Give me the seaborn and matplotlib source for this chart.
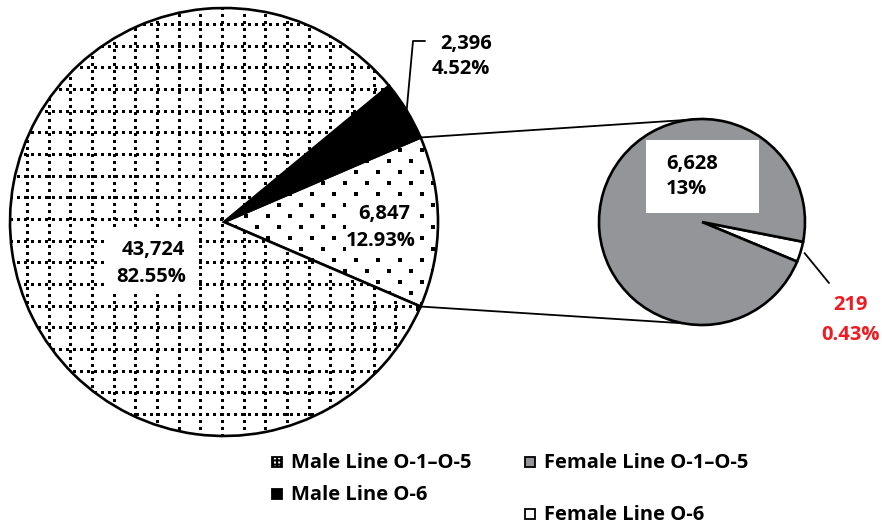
import numpy as np
import matplotlib
matplotlib.use("Agg")
import matplotlib.pyplot as plt
from matplotlib.patches import Rectangle
import seaborn as sns

# ---------------- data ----------------
main_categories = ["Female Line (all)", "Male Line O-6", "Male Line O-1–O-5"]
main_values = [6847, 2396, 43724]
main_pct = ["12.93%", "4.52%", "82.55%"]

sub_categories = ["Female Line O-6", "Female Line O-1–O-5"]
sub_values = [219, 6628]
sub_pct = ["0.43%", "13%"]

legend_labels = ["Male Line O-1–O-5", "Male Line O-6",
                 "Female Line O-1–O-5", "Female Line O-6"]

# ---------------- style ----------------
sns.set_theme(style="white")
plt.rcParams['font.family'] = ['Open Sans', 'DejaVu Sans']
plt.rcParams['hatch.linewidth'] = 1.5
GREY = "#939598"
RED = "#ed1c24"
FS = 14.5

W, H = 882, 524
fig = plt.figure(figsize=(W / 100, H / 100), dpi=100)
ax = fig.add_axes([0, 0, 1, 1])


def Y(py):
    return H - py


# big pie
c1 = (224, Y(222))
R1 = 214
tot = sum(main_values)
w_main, _ = ax.pie(main_values, colors=["white", "black", "white"],
                   startangle=-main_values[0] / tot * 180, counterclock=True,
                   center=c1, radius=R1,
                   wedgeprops=dict(edgecolor="black", linewidth=1.9, zorder=1))

# small pie
c2 = (702, Y(222))
R2 = 103
w_sub, _ = ax.pie(sub_values, colors=["white", GREY], startangle=-22.6,
                  center=c2, radius=R2,
                  wedgeprops=dict(edgecolor="black", linewidth=1.9, zorder=1))

ax.set_xlim(0, W)
ax.set_ylim(0, H)
ax.set_aspect("equal")
ax.axis("off")

# dotted-grid texture for the large slice
grid_w = w_main[2]
step = 21.67
for gx in np.arange(c1[0] - 2 - 11 * step, c1[0] + R1, step):
    ln, = ax.plot([gx, gx], [c1[1] - R1, c1[1] + R1], color="black", lw=2.0,
                  ls=(0, (1, 1.7)), dash_capstyle="butt", zorder=2,
                  antialiased=False)
    ln.set_clip_path(grid_w)
for gy in np.arange(c1[1] + 3 - 11 * step, c1[1] + R1, step):
    ln, = ax.plot([c1[0] - R1, c1[0] + R1], [gy, gy], color="black", lw=2.0,
                  ls=(0, (1, 1.7)), dash_capstyle="butt", zorder=2,
                  antialiased=False)
    ln.set_clip_path(grid_w)

# dot texture for the female slice
dot_w = w_main[0]
xs, ys = [], []
for i, gy in enumerate(np.arange(c1[1] - R1, c1[1] + R1, 11)):
    off = 0 if i % 2 == 0 else 11
    for gx in np.arange(c1[0] + off, c1[0] + R1 + 5, 22):
        xs.append(gx)
        ys.append(gy)
sc = ax.scatter(xs, ys, s=6, marker="s", color="black", linewidths=0, zorder=2)
sc.set_clip_path(dot_w)

# connector lines between the pies
t1, t2 = np.deg2rad(dot_w.theta1), np.deg2rad(dot_w.theta2)
p_top = (c1[0] + R1 * np.cos(t2), c1[1] + R1 * np.sin(t2))
p_bot = (c1[0] + R1 * np.cos(t1), c1[1] + R1 * np.sin(t1))
a_top, a_bot = np.deg2rad(91), np.deg2rad(259.5)
q_top = (c2[0] + R2 * np.cos(a_top), c2[1] + R2 * np.sin(a_top))
q_bot = (c2[0] + R2 * np.cos(a_bot), c2[1] + R2 * np.sin(a_bot))
ax.plot([p_top[0], q_top[0]], [p_top[1], q_top[1]], color="black", lw=1.3, zorder=0.5)
ax.plot([p_bot[0], q_bot[0]], [p_bot[1], q_bot[1]], color="black", lw=1.3, zorder=0.5)

# white boxes behind labels
for (x0, y0, x1, y1) in [(108, 230, 197, 290), (346, 199, 418, 251), (646, 140, 759, 213)]:
    ax.add_patch(Rectangle((x0, Y(y1)), x1 - x0, y1 - y0, facecolor="white",
                           edgecolor="none", zorder=3))


def label(x, ycen, s, ha="center", color="black"):
    ax.text(x, Y(ycen + 6.5), s, ha=ha, va="baseline", fontsize=FS,
            fontweight="bold", color=color, zorder=4)


# black slice label with leader
blk = w_main[1]
mid = np.deg2rad((blk.theta1 + blk.theta2) / 2)
ps = (c1[0] + R1 * np.cos(mid), c1[1] + R1 * np.sin(mid))
ax.plot([ps[0], 413, 425], [ps[1], Y(41), Y(41)], color="black", lw=1.3, zorder=4)
label(492, 42, f"{main_values[1]:,}", ha="right")
label(490, 68, main_pct[1], ha="right")

# female slice label
label(384, 213, f"{main_values[0]:,}")
label(381, 239, main_pct[0])

# male O-1–O-5 label
label(153, 248, f"{main_values[2]:,}")
label(151, 275, main_pct[2])

# sub pie labels
label(666, 163, f"{sub_values[1]:,}", ha="left")
label(666, 187, sub_pct[1], ha="left")

wh = w_sub[0]
mid2 = np.deg2rad((wh.theta1 + wh.theta2) / 2)
ps2 = (c2[0] + R2 * 1.04 * np.cos(mid2), c2[1] + R2 * 1.04 * np.sin(mid2))
ax.plot([ps2[0], 829], [ps2[1], Y(283)], color="black", lw=1.3, zorder=4)
label(851, 304, f"{sub_values[0]:,}", color=RED)
label(850, 333, sub_pct[0], color=RED)

# legend (manual layout)
leg_items = [
    (272, 462, dict(facecolor="white", hatch="++++")),
    (272, 494, dict(facecolor="black")),
    (525, 462, dict(facecolor=GREY)),
    (525, 514, dict(facecolor="white")),
]
for (px, pyc, kw), txt in zip(leg_items, legend_labels):
    ax.add_patch(Rectangle((px, Y(pyc + 5)), 10, 10, edgecolor="black",
                           linewidth=1.3, zorder=4, **kw))
    ax.text(px + 19, Y(pyc + 6.5), txt, ha="left", va="baseline", fontsize=FS,
            fontweight="bold", color="black", zorder=4)

fig.savefig("out.png", dpi=100)
